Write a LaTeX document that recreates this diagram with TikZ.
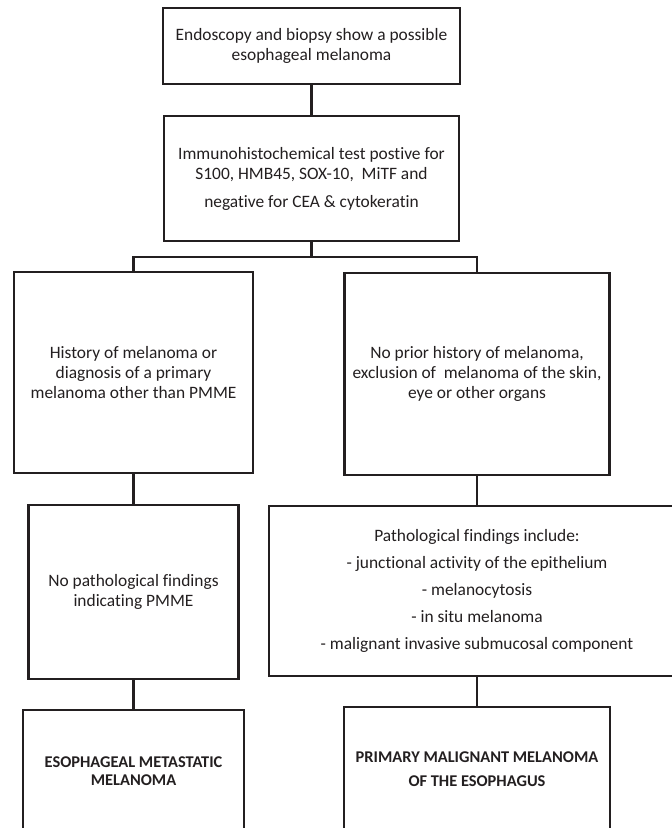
\documentclass[tikz,border=0pt]{standalone}
\usepackage{fontspec}
\setmainfont{Carlito}[Ligatures=NoCommon]
\definecolor{ink}{HTML}{231F20}
\begin{document}
\begin{tikzpicture}[x=1pt,y=-1pt,
  box/.style={draw=ink, line width=2.6pt, inner sep=0pt, align=center, text=ink,
    font=\fontsize{17.4}{20}\selectfont},
  conn/.style={draw=ink, line width=2.6pt}]
\clip (0,0) rectangle (672,828);
\fill[white] (0,0) rectangle (672,828);

\node[box, minimum width=297pt, minimum height=76pt] (top) at (311.5,46)
  {Endoscopy and biopsy show a possible\\esophageal melanoma};
\node[box, minimum width=295pt, minimum height=125pt] (imm) at (311.5,178.5)
  {Immunohistochemical test postive for\\S100, HMB45, SOX-10,\ \ MiTF and\\[8pt]negative for CEA \& cytokeratin};
\node[box, minimum width=239pt, minimum height=201pt] (hist) at (133.5,372.5)
  {History of melanoma or\\diagnosis of a primary\\melanoma other than PMME};
\node[box, minimum width=265pt, minimum height=202pt] (noprior) at (477,374)
  {No prior history of melanoma,\\exclusion of\ \ melanoma of the skin,\\eye or other organs};
\node[box, minimum width=210pt, minimum height=174pt] (nopath) at (133.5,592)
  {No pathological findings\\indicating PMME};
\node[box, minimum width=416pt, minimum height=170pt] (path) at (477,591)
  {Pathological findings include:\\[7pt]- junctional activity of the epithelium\\[7pt]- melanocytosis\\[7pt]- in situ melanoma\\[7pt]- malignant invasive submucosal component};
\node[box, minimum width=221pt, minimum height=122pt, font=\fontsize{16.4}{18}\selectfont\bfseries] (meta) at (133.5,771)
  {ESOPHAGEAL METASTATIC\\MELANOMA};
\node[box, minimum width=266pt, minimum height=125pt, font=\fontsize{16.4}{24}\selectfont\bfseries] (pmme) at (477,769.5)
  {PRIMARY MALIGNANT MELANOMA\\OF THE ESOPHAGUS};

\coordinate (split) at (311.5,257);
\draw[conn] (top.south) -- (imm.north);
\draw[conn] (imm.south) -- (split);
\draw[conn] (hist.north) |- (split) -| (noprior.north);
\draw[conn] (hist.south) -- (nopath.north);
\draw[conn] (nopath.south) -- (meta.north);
\draw[conn] (noprior.south) -- (path.north);
\draw[conn] (path.south) -- (pmme.north);
\end{tikzpicture}
\end{document}
